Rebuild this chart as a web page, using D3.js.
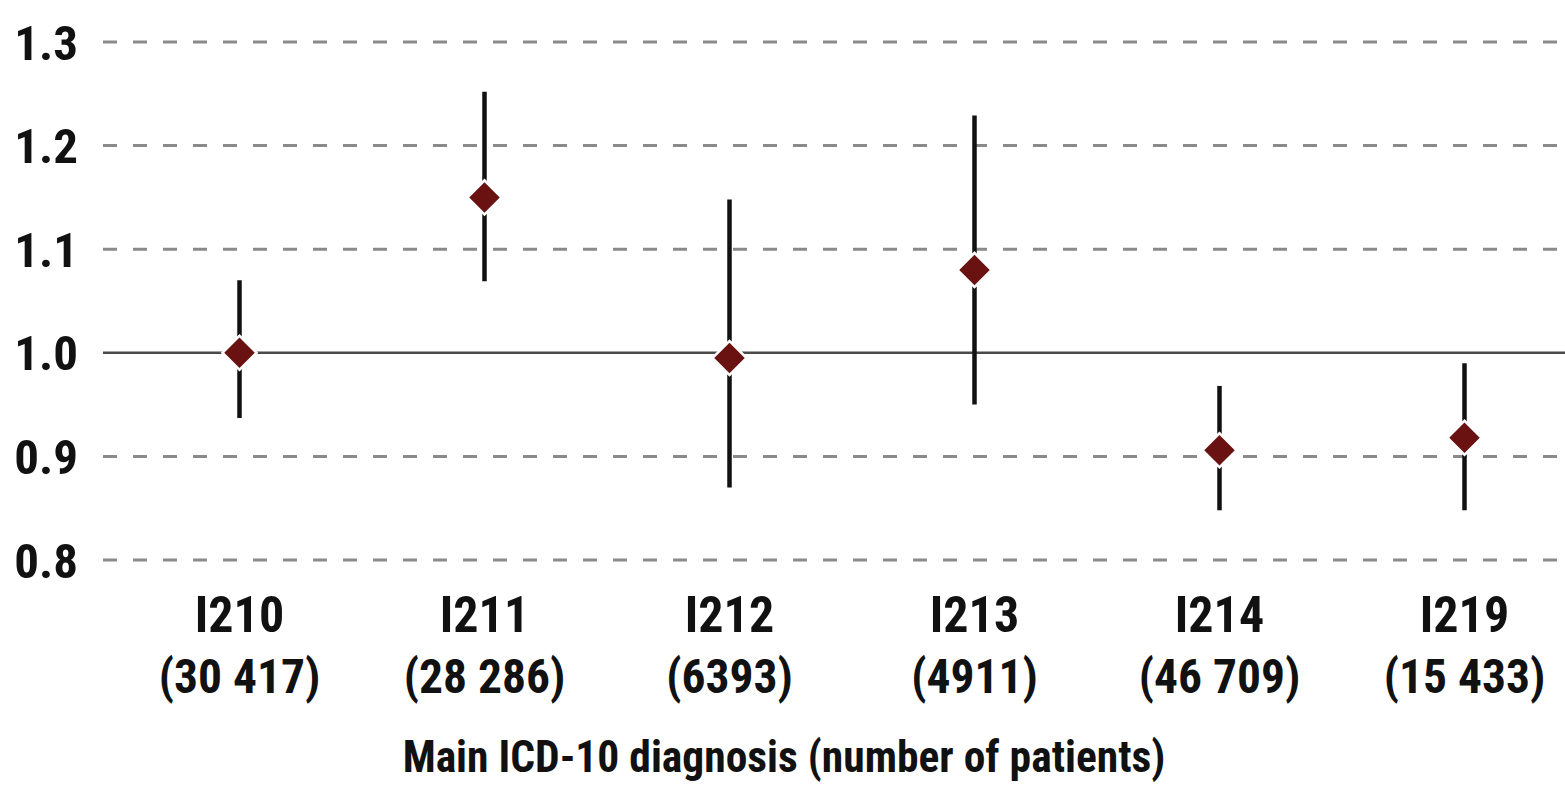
<!DOCTYPE html>
<html>
<head>
<meta charset="utf-8">
<script src="https://cdn.jsdelivr.net/npm/d3@7"></script>
<style>
  body { margin: 0; background: #fff; }
  text { font-family: "Roboto Condensed", "Liberation Sans Narrow", "Arial Narrow", sans-serif; font-weight: bold; fill: #111; }
</style>
</head>
<body>
<svg></svg>
<script>
var width = 1565;
var height = 787;

// data
var codes = ["I210", "I211", "I212", "I213", "I214", "I219"];
var patients = ["(30 417)", "(28 286)", "(6393)", "(4911)", "(46 709)", "(15 433)"];
var estimate = [1.0, 1.15, 0.995, 1.08, 0.906, 0.918];
var lower = [0.937, 1.069, 0.87, 0.95, 0.848, 0.848];
var upper = [1.07, 1.252, 1.148, 1.229, 0.968, 0.99];
var yTicks = [0.8, 0.9, 1.0, 1.1, 1.2, 1.3];

var rows = codes.map((c, i) => ({code: c, n: patients[i], est: estimate[i], lo: lower[i], hi: upper[i]}));

var svg = d3.select("svg")
    .attr("width", width)
    .attr("height", height);

//scales
var xScale = d3.scaleBand()
    .domain(codes)
    .range([117, 1587]);

var yScale = d3.scaleLinear()
    .domain([0.8, 1.3])
    .range([560, 42]);

var cx = d => xScale(d.code) + xScale.bandwidth() / 2;

//grid lines (dashed), reference line at 1.0 solid
svg.selectAll(".grid")
    .data(yTicks)
    .enter()
    .append("line")
        .attr("x1", 103)
        .attr("x2", width)
        .attr("y1", d => yScale(d))
        .attr("y2", d => yScale(d))
        .attr("stroke", d => d === 1.0 ? "#4a4a4a" : "#8a8a8a")
        .attr("stroke-width", d => d === 1.0 ? 2.5 : 3)
        .attr("stroke-dasharray", d => d === 1.0 ? null : "14,16");

//y labels
svg.selectAll(".ylab")
    .data(yTicks)
    .enter()
    .append("text")
        .attr("x", 78)
        .attr("y", d => yScale(d))
        .attr("dy", "0.36em")
        .attr("text-anchor", "end")
        .style("font-size", "49px")
        .text(d => d.toFixed(1));

//error bars
svg.selectAll(".ci")
    .data(rows)
    .enter()
    .append("line")
        .attr("x1", cx)
        .attr("x2", cx)
        .attr("y1", d => yScale(d.hi))
        .attr("y2", d => yScale(d.lo))
        .attr("stroke", "#111")
        .attr("stroke-width", 4.5);

//diamonds
var diamond = d3.symbol().type(d3.symbolSquare).size(580);
svg.selectAll(".pt")
    .data(rows)
    .enter()
    .append("path")
        .attr("d", diamond)
        .attr("transform", d => "translate(" + cx(d) + "," + yScale(d.est) + ") rotate(45)")
        .attr("fill", "#6a1212")
        .attr("stroke", "#fff")
        .attr("stroke-width", 2.5);

//category labels
var cats = svg.selectAll(".cat")
    .data(rows)
    .enter()
    .append("g")
        .attr("transform", d => "translate(" + cx(d) + ",0)");
cats.append("text")
    .attr("y", 614)
    .attr("dy", "0.36em")
    .attr("text-anchor", "middle")
    .style("font-size", "50px")
    .text(d => d.code);
cats.append("text")
    .attr("y", 676)
    .attr("dy", "0.36em")
    .attr("text-anchor", "middle")
    .style("font-size", "47.5px")
    .text(d => d.n);

//axis title
svg.append("text")
    .attr("x", 784)
    .attr("y", 756)
    .attr("dy", "0.36em")
    .attr("text-anchor", "middle")
    .style("font-size", "43.5px")
    .text("Main ICD-10 diagnosis (number of patients)");
</script>
</body>
</html>
